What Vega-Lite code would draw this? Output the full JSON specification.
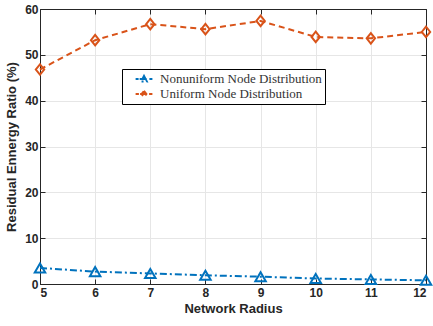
{
  "$schema": "https://vega.github.io/schema/vega-lite/v6.json",
  "width": 386,
  "height": 275,
  "autosize": {"type": "none"},
  "padding": {"left": 40, "top": 9, "right": 7, "bottom": 42},
  "background": "white",
  "config": {
    "view": {"stroke": "#000000", "strokeWidth": 1},
    "axis": {
      "labelFont": "Liberation Sans", "labelFontWeight": "bold", "labelFontSize": 12, "labelColor": "#262626",
      "titleFont": "Liberation Sans", "titleFontWeight": "bold", "titleFontSize": 13, "titleColor": "#262626",
      "domainColor": "#262626", "tickColor": "#262626", "tickSize": -5, "gridColor": "#e6e6e6", "gridWidth": 1
    }
  },
  "data": {"values": [
    {"r": 5, "v": 3.5, "s": "Nonuniform Node Distribution"},
    {"r": 6, "v": 2.7, "s": "Nonuniform Node Distribution"},
    {"r": 7, "v": 2.3, "s": "Nonuniform Node Distribution"},
    {"r": 8, "v": 1.9, "s": "Nonuniform Node Distribution"},
    {"r": 9, "v": 1.6, "s": "Nonuniform Node Distribution"},
    {"r": 10, "v": 1.2, "s": "Nonuniform Node Distribution"},
    {"r": 11, "v": 1.0, "s": "Nonuniform Node Distribution"},
    {"r": 12, "v": 0.8, "s": "Nonuniform Node Distribution"},
    {"r": 5, "v": 46.8, "s": "Uniform Node Distribution"},
    {"r": 6, "v": 53.2, "s": "Uniform Node Distribution"},
    {"r": 7, "v": 56.7, "s": "Uniform Node Distribution"},
    {"r": 8, "v": 55.6, "s": "Uniform Node Distribution"},
    {"r": 9, "v": 57.4, "s": "Uniform Node Distribution"},
    {"r": 10, "v": 53.9, "s": "Uniform Node Distribution"},
    {"r": 11, "v": 53.6, "s": "Uniform Node Distribution"},
    {"r": 12, "v": 55.0, "s": "Uniform Node Distribution"}
  ]},
  "layer": [
    {
      "encoding": {
        "x": {"field": "r", "type": "quantitative", "scale": {"domain": [5, 12], "nice": false},
              "axis": {"title": "Network Radius", "values": [5,6,7,8,9,10,11,12], "labelPadding": 8, "titlePadding": 4}},
        "y": {"field": "v", "type": "quantitative", "scale": {"domain": [0, 60], "nice": false},
              "axis": {"title": "Residual Ennergy Ratio (%)", "values": [0,10,20,30,40,50,60], "labelPadding": 7, "titlePadding": 6}}
      },
      "layer": [
        {
          "mark": {"type": "line", "strokeWidth": 2},
          "encoding": {
            "color": {"field": "s", "type": "nominal",
                      "scale": {"domain": ["Nonuniform Node Distribution", "Uniform Node Distribution"], "range": ["#0072BD", "#D95319"]},
                      "legend": {
                        "title": null, "orient": "none", "legendX": 82, "legendY": 60,
                        "strokeColor": "#000000", "fillColor": "white", "padding": 3,
                        "labelFont": "Liberation Serif", "labelFontSize": 13, "labelColor": "#333333", "labelLimit": 300,
                        "symbolSize": 144, "symbolStrokeWidth": 1.8, "labelOffset": 9, "symbolOffset": 12, "rowPadding": 1,
                        "encode": {"symbols": {"update": {
                          "shape": {"signal": "datum.value == 'Nonuniform Node Distribution' ? 'M-1.4,0L-0.9,0M-0.72,0L0.72,0M0.9,0L1.4,0M0,-0.55L0.5,0.42L-0.5,0.42Z' : 'M-1.4,0L-0.85,0M-0.65,0L0.65,0M0.85,0L1.4,0M0,-0.55L0.42,0L0,0.55L-0.42,0Z'"},
                          "strokeDash": {"value": []},
                          "fill": {"value": "transparent"}
                        }}}
                      }},
            "strokeDash": {"field": "s", "type": "nominal",
                           "scale": {"domain": ["Nonuniform Node Distribution", "Uniform Node Distribution"], "range": [[7, 3, 2, 3], [6, 4]]},
                           "legend": null}
          }
        },
        {
          "transform": [{"filter": "datum.s == 'Nonuniform Node Distribution'"}],
          "mark": {"type": "point", "filled": false, "strokeWidth": 2, "size": 110, "opacity": 1, "shape": "triangle-up", "color": "#0072BD"}
        },
        {
          "transform": [{"filter": "datum.s == 'Uniform Node Distribution'"}],
          "mark": {"type": "point", "filled": false, "strokeWidth": 2, "size": 110, "opacity": 1, "shape": "M0,-1L0.8,0L0,1L-0.8,0Z", "color": "#D95319"}
        }
      ]
    },
    {
      "mark": {"type": "point", "opacity": 0},
      "encoding": {
        "x": {"field": "r", "type": "quantitative", "scale": {"domain": [5, 12], "nice": false},
              "axis": {"orient": "top", "title": null, "labels": false, "grid": false, "values": [5,6,7,8,9,10,11,12]}},
        "y": {"field": "v", "type": "quantitative", "scale": {"domain": [0, 60], "nice": false},
              "axis": {"orient": "right", "title": null, "labels": false, "grid": false, "values": [0,10,20,30,40,50,60]}}
      }
    }
  ],
  "resolve": {"axis": {"x": "independent", "y": "independent"}}
}
